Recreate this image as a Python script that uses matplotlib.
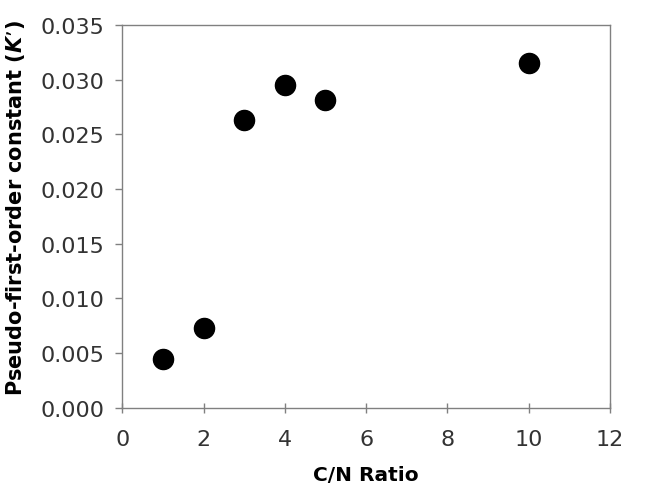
import matplotlib
matplotlib.use("Agg")
import matplotlib.pyplot as plt

# C/N ratio vs pseudo-first-order rate constant
cn_ratio = [1, 2, 3, 4, 5, 10]
k_prime = [0.0045, 0.0073, 0.0263, 0.0295, 0.0281, 0.0315]

x_ticks = [0, 2, 4, 6, 8, 10, 12]
y_ticks = [0.000, 0.005, 0.010, 0.015, 0.020, 0.025, 0.030, 0.035]

fig = plt.figure(figsize=(6.68, 4.89), dpi=100)
ax = fig.add_axes([0.183, 0.164, 0.730, 0.783])

ax.scatter(cn_ratio, k_prime, s=210, color="black", zorder=3, clip_on=False)

ax.set_xlim(0, 12)
ax.set_ylim(0, 0.035)
ax.set_xticks(x_ticks)
ax.set_yticks(y_ticks)
ax.set_yticklabels([f"{v:.3f}" for v in y_ticks])

for sp in ax.spines.values():
    sp.set_color("#808080")
    sp.set_linewidth(1.0)
ax.tick_params(colors="#808080", labelcolor="#333333", labelsize=16,
               length=5, width=1.0, pad=8)
ax.tick_params(axis="x", direction="inout", length=7, pad=12)

ax.set_xlabel("C/N Ratio", fontsize=14.5, fontweight="bold", labelpad=11)
ax.set_ylabel("Pseudo-first-order constant ($\\boldsymbol{K}$\u2019)", fontsize=15,
              fontweight="bold")
ax.yaxis.set_label_coords(-0.195, 0.525)

fig.savefig("out.png", dpi=100)
